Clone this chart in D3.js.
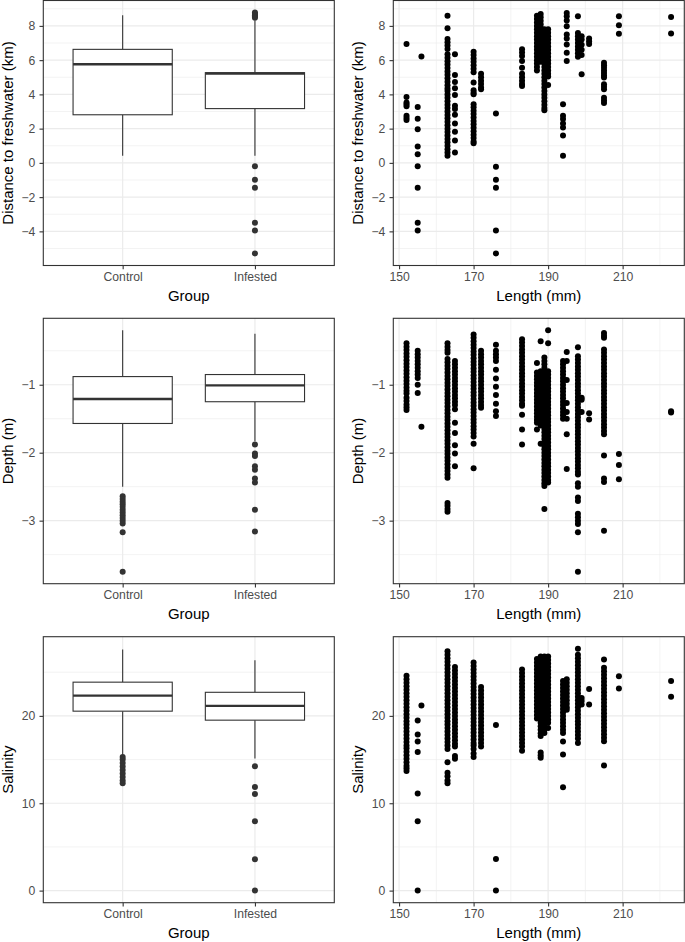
<!DOCTYPE html>
<html><head><meta charset="utf-8">
<script src="https://cdn.jsdelivr.net/npm/d3@7"></script>
<style>body{margin:0;background:#fff} text{font-family:"Liberation Sans",Arial,Helvetica,sans-serif}</style>
</head><body><svg id="c" width="685" height="942"></svg>
<script>
// ---------------- DATA ----------------
const groups = ["Control", "Infested"];
const lengths = [152,155,156,163,165,170,172,176,183,187,188,189,190,194,195,198,199,201,205,209,223];

// Boxplot summaries
const distQ1 = [2.81, 3.17], distMed = [5.76, 5.21], distQ3 = [6.63, 5.27], distLo = [0.42, 0.42], distHi = [8.62, 8.31];
const distOut = [[], [8.78, 8.7, 8.62, 8.55, 8.47, -0.2, -0.99, -1.45, -3.49, -3.95, -5.29]];
const depthQ1 = [-1.57, -1.25], depthMed = [-1.21, -1.01], depthQ3 = [-0.88, -0.85], depthLo = [-2.5, -1.83], depthHi = [-0.2, -0.25];
const depthOut = [[-2.64,-2.68,-2.72,-2.76,-2.8,-2.84,-2.88,-2.92,-2.96,-3.0,-3.04,-3.17,-3.75],[-1.88,-2.01,-2.05,-2.2,-2.25,-2.38,-2.44,-2.84,-3.16]];
const salQ1 = [20.54, 19.51], salMed = [22.33, 21.15], salQ3 = [23.86, 22.7], salLo = [15.5, 15.12], salHi = [27.6, 26.38];
const salOut = [[15.3,15.0,14.6,14.2,13.8,13.4,13.0,12.6,12.3],[14.24,11.87,11.07,7.94,3.59,0]];

// Scatter values per length (same order as lengths)
const distByLength = [
  [6.95,3.85,3.52,3.42,3.31,2.75,2.62,2.5],
  [3.26,2.58,1.96,0.95,0.5,-0.2,-1.45,-3.49,-3.95],
  [6.22],
  [8.6,7.87,7.24,7.05,6.85,6.65,6.34,6.14,5.94,5.74,5.54,5.34,5.14,4.94,4.74,4.54,4.34,4.2,4.0,3.8,3.6,3.4,3.2,3.0,2.8,2.6,2.4,2.2,2.0,1.8,1.6,1.4,1.2,1.0,0.8,0.6,0.42],
  [6.34,5.13,4.73,4.36,3.97,3.33,3.14,2.81,2.3,1.82,1.3,0.6],
  [6.49,6.3,6.1,5.9,5.7,5.5,5.3,4.69,4.24,4.1,4.01,3.43,3.25,3.05,2.85,2.65,2.45,2.25,2.05,1.85,1.65,1.45,1.25,1.14],
  [5.2,5.0,4.8,4.6,4.4,4.3],
  [2.88,-0.22,-0.99,-1.45,-3.95,-5.29],
  [6.63,6.45,6.24,5.95,5.56,5.21,5.0,4.8,4.6,4.49],
  [8.6,8.4,8.2,8.0,7.8,7.6,7.4,7.2,7.0,6.8,6.6,6.4,6.2,6.0,5.8,5.6,5.4],
  [8.7,8.5,8.3,8.1,7.9,7.7,7.5,7.3,7.1,6.9,6.7,6.5,6.3,6.1,5.9],
  [7.8,7.6,7.4,7.2,7.0,6.8,6.6,6.4,6.2,6.0,5.8,5.6,5.4,5.2,5.0,4.8,4.6,4.4,4.2,4.0,3.8,3.6,3.4,3.2,3.08],
  [7.8,7.6,7.4,7.2,7.0,6.8,6.6,6.4,6.2,6.0,5.8,5.6,5.4,5.2,5.05,4.55],
  [3.43,2.75,2.56,2.3,2.07,1.6,0.42],
  [8.76,8.56,8.31,7.98,7.5,7.27,6.92,6.43,5.95],
  [8.56,7.59,7.4,7.2,7.0,6.8,6.6,6.4,6.2],
  [7.4,7.2,6.9,6.6,6.3,5.17],
  [7.27,7.1,6.95],
  [5.85,5.7,5.55,5.4,5.25,5.1,4.98,4.59,4.45,4.3,3.81,3.65,3.5],
  [8.56,8.04,7.54],
  [8.52,7.56]
];
const depthByLength = [
  [-0.39,-0.44,-0.49,-0.54,-0.59,-0.64,-0.69,-0.74,-0.79,-0.84,-0.89,-0.94,-0.99,-1.04,-1.09,-1.13,-1.19,-1.24,-1.29,-1.33,-1.37],
  [-0.5,-0.55,-0.6,-0.65,-0.7,-0.75,-0.8,-0.85,-0.9,-1.0,-1.12],
  [-1.62],
  [-0.39,-0.44,-0.49,-0.53,-0.62,-0.67,-0.72,-0.77,-0.82,-0.87,-0.92,-0.97,-1.02,-1.07,-1.12,-1.17,-1.22,-1.27,-1.32,-1.37,-1.42,-1.47,-1.52,-1.57,-1.62,-1.67,-1.72,-1.77,-1.82,-1.87,-1.92,-1.97,-2.02,-2.07,-2.12,-2.17,-2.22,-2.27,-2.32,-2.37,-2.74,-2.78,-2.83,-2.87],
  [-0.65,-0.7,-0.75,-0.8,-0.85,-0.9,-0.95,-1.0,-1.05,-1.1,-1.15,-1.2,-1.25,-1.3,-1.36,-1.56,-1.71,-1.89,-2.01,-2.2],
  [-0.26,-0.31,-0.36,-0.41,-0.46,-0.51,-0.56,-0.61,-0.66,-0.71,-0.76,-0.81,-0.86,-0.91,-0.96,-1.01,-1.06,-1.11,-1.16,-1.21,-1.26,-1.31,-1.36,-1.41,-1.46,-1.51,-1.56,-1.61,-1.66,-1.71,-1.76,-1.87,-2.23],
  [-0.5,-0.55,-0.6,-0.65,-0.7,-0.75,-0.8,-0.85,-0.9,-0.95,-1.0,-1.05,-1.1,-1.15,-1.2,-1.25,-1.3,-1.34],
  [-0.41,-0.5,-0.55,-0.6,-0.65,-0.78,-0.91,-1.03,-1.15,-1.28,-1.39,-1.46],
  [-0.33,-0.38,-0.43,-0.48,-0.53,-0.58,-0.63,-0.68,-0.73,-0.78,-0.83,-0.88,-0.93,-0.98,-1.03,-1.08,-1.13,-1.18,-1.23,-1.28,-1.31,-1.44,-1.66,-1.88],
  [-0.68,-0.82,-0.87,-0.92,-0.97,-1.02,-1.07,-1.12,-1.17,-1.22,-1.27,-1.32,-1.37,-1.42,-1.47,-1.52,-1.56,-1.66],
  [-0.36,-0.8,-0.85,-0.9,-0.95,-1.0,-1.05,-1.1,-1.15,-1.2,-1.25,-1.3,-1.35,-1.4,-1.45,-1.5,-1.55,-1.6,-1.87],
  [-0.6,-0.65,-0.7,-0.75,-0.8,-0.85,-0.9,-0.95,-1.0,-1.05,-1.1,-1.15,-1.2,-1.25,-1.3,-1.35,-1.4,-1.45,-1.5,-1.55,-1.6,-1.65,-1.7,-1.75,-1.8,-1.85,-1.9,-1.95,-2.0,-2.05,-2.1,-2.15,-2.2,-2.25,-2.3,-2.35,-2.4,-2.45,-2.49,-2.83],
  [-0.2,-0.39,-0.8,-0.85,-0.9,-0.95,-1.0,-1.05,-1.1,-1.15,-1.2,-1.25,-1.3,-1.35,-1.4,-1.45,-1.5,-1.55,-1.6,-1.65,-1.7,-1.75,-1.8,-1.85,-1.9,-1.95,-2.0,-2.05,-2.1,-2.15,-2.2,-2.25,-2.3,-2.35,-2.4,-2.44],
  [-0.65,-0.7,-0.75,-0.8,-0.85,-0.9,-0.95,-1.0,-1.05,-1.1,-1.15,-1.2,-1.25,-1.3,-1.35,-1.4,-1.45,-1.5],
  [-0.52,-0.65,-0.93,-1.27,-1.4,-1.5,-1.73,-2.24],
  [-0.45,-0.58,-0.63,-0.68,-0.73,-0.78,-0.83,-0.88,-0.93,-0.98,-1.03,-1.08,-1.13,-1.18,-1.23,-1.28,-1.33,-1.38,-1.43,-1.48,-1.53,-1.58,-1.63,-1.68,-1.73,-1.78,-1.83,-1.88,-1.93,-1.98,-2.03,-2.08,-2.13,-2.18,-2.23,-2.28,-2.32,-2.45,-2.5,-2.66,-2.71,-2.9,-2.95,-3.0,-3.05,-3.17,-3.75],
  [-1.19,-1.22,-1.4],
  [-1.42,-1.51],
  [-0.24,-0.28,-0.31,-0.48,-0.53,-0.58,-0.63,-0.68,-0.73,-0.78,-0.83,-0.88,-0.93,-0.98,-1.03,-1.08,-1.13,-1.18,-1.23,-1.28,-1.33,-1.38,-1.43,-1.48,-1.53,-1.58,-1.63,-1.68,-1.73,-2.04,-2.38,-2.43,-3.15],
  [-2.02,-2.18,-2.39],
  [-1.39,-1.41]
];
const salByLength = [
  [24.6,24.2,23.8,23.4,23.0,22.6,22.2,21.8,21.4,21.0,20.6,20.2,19.8,19.4,19.0,18.6,18.2,17.8,17.4,17.0,16.6,16.3,15.9,15.5,15.1,14.7,14.3,14.0,13.7],
  [19.47,17.87,17.07,15.88,11.11,7.94,0],
  [21.2],
  [27.4,27.0,26.6,26.2,25.8,25.4,25.0,24.6,24.2,23.8,23.4,23.0,22.6,22.2,21.8,21.4,21.0,20.6,20.2,19.8,19.4,19.0,18.6,18.2,17.8,17.4,17.0,16.6,16.2,14.7,13.5,13.1,12.6,12.3],
  [25.6,25.2,24.8,24.4,24.0,23.6,23.2,22.8,22.4,22.0,21.6,21.2,20.8,20.4,20.0,19.6,19.2,18.8,18.4,18.0,17.6,17.2,16.8,16.5,15.4,15.1],
  [26.1,25.7,25.3,24.9,24.5,24.1,23.7,23.3,22.9,22.5,22.1,21.7,21.3,20.9,20.5,20.1,19.7,19.3,18.9,18.5,18.1,17.7,17.3,16.9,16.6,16.2,15.7,15.3],
  [23.3,22.9,22.5,22.1,21.7,21.3,20.9,20.5,20.1,19.7,19.3,18.9,18.5,18.1,17.7,17.3,16.9,16.5],
  [18.97,3.62,0],
  [25.3,24.9,24.5,24.1,23.7,23.3,22.9,22.5,22.1,21.7,21.3,20.9,20.5,20.1,19.7,19.3,18.9,18.5,18.1,17.7,17.3,16.9,16.5,16.0],
  [26.5,26.1,25.7,25.3,24.9,24.5,24.1,23.7,23.3,22.9,22.5,22.1,21.7,21.3,20.9,20.5,20.1,19.7],
  [26.8,26.4,26.0,25.6,25.2,24.8,24.4,24.0,23.6,23.2,22.8,22.4,22.0,21.6,21.2,20.8,20.4,20.0,19.6,19.2,18.8,18.4,18.0,17.7,15.8,15.5,15.2],
  [26.8,26.4,26.0,25.6,25.2,24.8,24.4,24.0,23.6,23.2,22.8,22.4,22.0,21.6,21.2,20.8,20.4,20.0,19.6,19.2,18.8,18.4,18.05],
  [26.8,26.4,26.0,25.6,25.2,24.8,24.4,24.0,23.6,23.2,22.8,22.4,22.0,21.6,21.2,20.8,20.4,20.0,19.6,19.2,18.6],
  [24.0,23.6,23.2,22.8,22.4,22.0,21.6,21.2,20.8,20.4,20.0,19.6,19.2,18.8,18.4,18.05,17.07,15.58,11.83],
  [24.2,23.8,23.4,23.0,22.6,22.2,21.8,21.4,21.0,20.7],
  [27.68,27.0,26.6,26.2,25.8,25.4,25.0,24.6,24.2,23.8,23.4,23.0,22.6,22.2,21.8,21.4,21.0,20.6,20.2,19.8,19.4,19.0,18.6,18.2,17.8,17.4,16.9],
  [22.06,21.7,21.3],
  [23.09,21.3],
  [26.46,25.5,25.1,24.7,24.3,23.9,23.5,23.1,22.7,22.3,21.9,21.5,21.1,20.7,20.3,19.9,19.5,19.1,18.7,18.3,17.9,17.5,17.1,14.32],
  [24.55,23.14],
  [23.98,22.18]
];

// Axis ticks
const lengthTicks = [150, 170, 190, 210], lengthMinor = [160, 180, 200, 220];
const distTicks = [-4, -2, 0, 2, 4, 6, 8], distMinor = [-5, -3, -1, 1, 3, 5, 7, 9];
const depthTicks = [-3, -2, -1], depthMinor = [-3.5, -2.5, -1.5, -0.5];
const salTicks = [0, 10, 20], salMinor = [5, 15, 25];

// ---------------- LAYOUT ----------------
const svg = d3.select("#c");
const colX = [[43.3, 334.3], [393.3, 684.3]];
const rowY = [[0.5, 265.5], [318.3, 583.7], [636.7, 902.7]];
const GRID = "#ebebeb", DARK = "#333333", TICKTXT = "#4d4d4d";
const TICKFS = 12.2, TITLEFS = 15, R = 3.0;

function expand(vals) {
  const [a, b] = d3.extent(vals); const r = b - a;
  return [a - 0.05 * r, b + 0.05 * r];
}

const xLen = d3.scaleLinear().domain(expand(lengths)).range(colX[1]);
const xGrp = d3.scalePoint().domain(groups).range(colX[0]).padding(0.6);

const rows = [
  {title: "Distance to freshwater (km)", byLen: distByLength, q1: distQ1, med: distMed, q3: distQ3, lo: distLo, hi: distHi, out: distOut, ticks: distTicks, minor: distMinor},
  {title: "Depth (m)", byLen: depthByLength, q1: depthQ1, med: depthMed, q3: depthQ3, lo: depthLo, hi: depthHi, out: depthOut, ticks: depthTicks, minor: depthMinor},
  {title: "Salinity", byLen: salByLength, q1: salQ1, med: salMed, q3: salQ3, lo: salLo, hi: salHi, out: salOut, ticks: salTicks, minor: salMinor}
];

rows.forEach((row, ri) => {
  const allVals = row.byLen.flat().concat(row.out.flat(), row.lo, row.hi);
  const y = d3.scaleLinear().domain(expand(allVals)).range([rowY[ri][1], rowY[ri][0]]);
  const [y0, y1] = rowY[ri];

  [0, 1].forEach(ci => {
    const [x0, x1] = colX[ci];
    const g = svg.append("g");
    g.append("rect").attr("x", x0).attr("y", y0).attr("width", x1 - x0).attr("height", y1 - y0).attr("fill", "#fff");
    g.selectAll(".ymin").data(row.minor.filter(v => y(v) >= y0 && y(v) <= y1)).enter().append("line")
      .attr("x1", x0).attr("x2", x1).attr("y1", d => y(d)).attr("y2", d => y(d))
      .attr("stroke", GRID).attr("stroke-width", 0.6);
    if (ci === 1) {
      g.selectAll(".xmin").data(lengthMinor.filter(v => xLen(v) <= x1)).enter().append("line")
        .attr("x1", d => xLen(d)).attr("x2", d => xLen(d)).attr("y1", y0).attr("y2", y1)
        .attr("stroke", GRID).attr("stroke-width", 0.6);
    }
    g.selectAll(".ymaj").data(row.ticks).enter().append("line")
      .attr("x1", x0).attr("x2", x1).attr("y1", d => y(d)).attr("y2", d => y(d))
      .attr("stroke", GRID).attr("stroke-width", 1.2);
    const xs = ci === 0 ? groups.map(d => xGrp(d)) : lengthTicks.map(d => xLen(d));
    g.selectAll(".xmaj").data(xs).enter().append("line")
      .attr("x1", d => d).attr("x2", d => d).attr("y1", y0).attr("y2", y1)
      .attr("stroke", GRID).attr("stroke-width", 1.2);

    if (ci === 0) {
      const bw = xGrp.step() * 0.75;
      groups.forEach((grp, gi) => {
        const cx = xGrp(grp);
        g.append("line").attr("x1", cx).attr("x2", cx).attr("y1", y(row.hi[gi])).attr("y2", y(row.q3[gi]))
          .attr("stroke", DARK).attr("stroke-width", 1.1);
        g.append("line").attr("x1", cx).attr("x2", cx).attr("y1", y(row.q1[gi])).attr("y2", y(row.lo[gi]))
          .attr("stroke", DARK).attr("stroke-width", 1.1);
        g.append("rect").attr("x", cx - bw / 2).attr("width", bw)
          .attr("y", y(row.q3[gi])).attr("height", y(row.q1[gi]) - y(row.q3[gi]))
          .attr("fill", "#fff").attr("stroke", DARK).attr("stroke-width", 1.1);
        g.append("line").attr("x1", cx - bw / 2).attr("x2", cx + bw / 2).attr("y1", y(row.med[gi])).attr("y2", y(row.med[gi]))
          .attr("stroke", DARK).attr("stroke-width", 2.3);
        g.selectAll(null).data(row.out[gi]).enter().append("circle")
          .attr("cx", cx).attr("cy", d => y(d)).attr("r", R).attr("fill", DARK);
      });
    } else {
      const pts = [];
      lengths.forEach((L, li) => row.byLen[li].forEach(v => pts.push([L, v])));
      g.selectAll(null).data(pts).enter().append("circle")
        .attr("cx", d => xLen(d[0])).attr("cy", d => y(d[1])).attr("r", R).attr("fill", "#000");
    }
    g.append("rect").attr("x", x0).attr("y", y0).attr("width", x1 - x0).attr("height", y1 - y0)
      .attr("fill", "none").attr("stroke", DARK).attr("stroke-width", 1.1);

    const yAx = g.append("g").attr("transform", `translate(${x0},0)`)
      .call(d3.axisLeft(y).tickValues(row.ticks).tickSize(3.8).tickPadding(4.2).tickFormat(d3.format("")));
    const xAx = g.append("g").attr("transform", `translate(0,${y1})`)
      .call(ci === 0 ? d3.axisBottom(xGrp).tickSize(3.8).tickPadding(3.2)
                     : d3.axisBottom(xLen).tickValues(lengthTicks).tickSize(3.8).tickPadding(3.2));
    [yAx, xAx].forEach(a => {
      a.select(".domain").remove();
      a.selectAll(".tick line").attr("stroke", DARK).attr("stroke-width", 1.1);
      a.selectAll(".tick text").attr("fill", TICKTXT).style("font-size", TICKFS + "px")
        .style("font-family", '"Liberation Sans",Arial,sans-serif');
    });

    g.append("text").attr("transform", `translate(${x0 - 30.5},${(y0 + y1) / 2}) rotate(-90)`)
      .attr("text-anchor", "middle").style("font-size", TITLEFS + "px").attr("fill", "#000")
      .text(row.title);
    g.append("text").attr("x", (x0 + x1) / 2).attr("y", y1 + 35.5)
      .attr("text-anchor", "middle").style("font-size", TITLEFS + "px").attr("fill", "#000")
      .text(ci === 0 ? "Group" : "Length (mm)");
  });
});
</script></body></html>
